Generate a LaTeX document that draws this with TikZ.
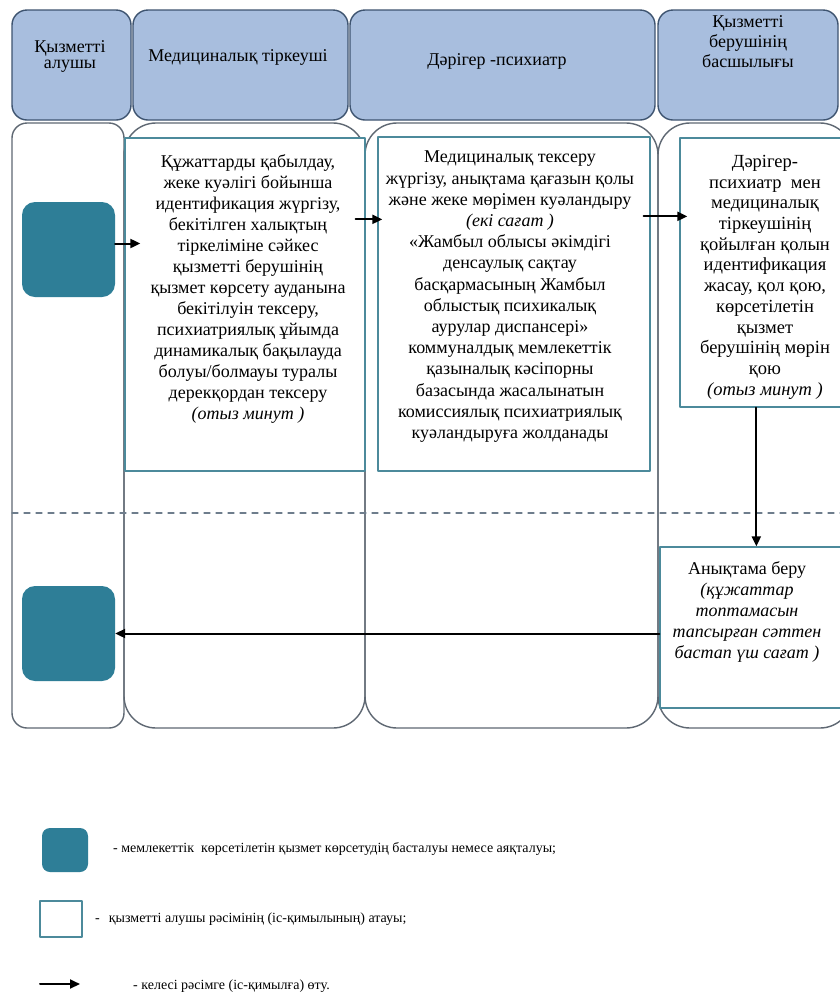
\documentclass[tikz,border=0pt]{standalone}
\usepackage{fontspec}
\setmainfont{Liberation Serif}
\usetikzlibrary{arrows.meta}
\definecolor{headfill}{RGB}{168,190,222}
\definecolor{headline}{RGB}{62,84,112}
\definecolor{laneline}{RGB}{95,104,115}
\definecolor{boxline}{RGB}{76,138,155}
\definecolor{termfill}{RGB}{46,126,151}
\definecolor{dashline}{RGB}{110,125,140}

\begin{document}
\begin{tikzpicture}[line cap=round, line join=round, x=1pt, y=-1pt,
    lane/.style={draw=laneline, line width=1.4pt},
    head/.style={draw=headline, fill=headfill, line width=1.4pt, rounded corners=15pt, minimum height=110pt, inner sep=0pt},
    proc/.style={draw=boxline, fill=white, line width=1.3pt, inner sep=0pt},
    term/.style={fill=termfill, rounded corners=13pt, minimum width=93pt, minimum height=95pt, inner sep=0pt},
    txt/.style={align=center, inner sep=0pt, anchor=north, font=\fontsize{18}{21}\selectfont},
    flow/.style={line width=2pt, -{Triangle[length=10pt,width=9pt]}},
    legend/.style={anchor=west, inner sep=0pt, font=\fontsize{14}{16}\selectfont}]

                \clip (0,0) rectangle (840,1005);
                \fill[white] (0,0) rectangle (840,1005);

                \draw[lane, rounded corners=15pt] (12,123) rectangle (124,728);
                \draw[lane, rounded corners=32pt] (124,123) rectangle (365,728);
                \draw[lane, rounded corners=32pt] (365,123) rectangle (658,728);
                \draw[lane, rounded corners=32pt] (658,123) rectangle (852,728);

                \draw[dashline, dash pattern=on 6pt off 6pt, line width=1.2pt] (12,513) -- (840,513);

                \node[head, minimum width=119pt] (h1) at (71.5,65) {};
                \node[head, minimum width=215pt] (h2) at (240.5,65) {};
                \node[head, minimum width=305pt] (h3) at (502.5,65) {};
                \node[head, minimum width=180pt] (h4) at (748,65) {};

                \node[txt, anchor=center, font=\fontsize{18}{16}\selectfont] (h1t) at (70,56) {Қызметті\\алушы};
                \node[txt, anchor=center] (h2t) at (238,57) {Медициналық тіркеуші};
                \node[txt, anchor=center] (h3t) at (497,61) {Дәрігер -психиатр};
                \node[txt, anchor=center, font=\fontsize{18}{20}\selectfont] (h4t) at (748,42) {Қызметті\\берушінің\\басшылығы};

                \node[proc, minimum width=240pt, minimum height=333pt] (b1) at (245,304.5) {};
                \node[proc, minimum width=272pt, minimum height=334pt] (b2) at (514,304) {};
                \node[proc, minimum width=190pt, minimum height=269pt] (b3) at (775,272.5) {};
                \node[proc, minimum width=210pt, minimum height=161pt] (b4) at (765,627.5) {};

                \node[txt] (b1t) at (248,154) {Құжаттарды қабылдау,\\жеке куәлігі бойынша\\идентификация жүргізу,\\бекітілген халықтың\\тіркеліміне сәйкес\\қызметті берушінің\\қызмет көрсету ауданына\\бекітілуін тексеру,\\психиатриялық ұйымда\\динамикалық бақылауда\\болуы/болмауы туралы\\дерекқордан тексеру\\\textit{(отыз минут )}};
                \node[txt, font=\fontsize{18}{21.2}\selectfont] (b2t) at (510,151) {Медициналық тексеру\\жүргізу,\ анықтама қағазын\ қолы\\және жеке мөрімен куәландыру\\\textit{(екі сағат )}\\«Жамбыл облысы әкімдігі\\денсаулық сақтау\\басқармасының Жамбыл\\облыстық психикалық\\аурулар диспансері»\\коммуналдық мемлекеттік\\қазыналық кәсіпорны\\базасында жасалынатын\\комиссиялық психиатриялық\\куәландыруға жолданады};
                \node[txt, font=\fontsize{18.5}{20.7}\selectfont] (b3t) at (765,155) {Дәрігер-\\психиатр\enspace мен\\медициналық\\тіркеушінің\\қойылған қолын\\идентификация\\жасау, қол қою,\\көрсетілетін\\қызмет\\берушінің мөрін\\қою\\\textit{(отыз минут )}};
                \node[txt] (b4t) at (747,561) {Анықтама беру\\\textit{(құжаттар}\\\textit{топтамасын}\\\textit{тапсырған сәттен}\\\textit{бастап үш сағат )}};

                \node[term] (start) at (68.5,249.5) {};
                \node[term] (finish) at (68.5,633.5) {};

                \coordinate (a12) at ([yshift=-82pt]b1.north east);
                \coordinate (a23) at ([yshift=-80pt]b2.north east);
                \coordinate (a34) at ([xshift=77pt]b3.south west);

                \draw[flow, shorten >=-16pt] ([yshift=6pt]start.east) -- ([yshift=6pt]start.east -| b1.west);
                \draw[flow, shorten <=-10pt, shorten >=-5pt] (a12) -- (a12 -| b2.west);
                \draw[flow, shorten <=-7pt, shorten >=-8pt] (a23) -- (a23 -| b3.west);
                \draw[flow] (a34) -- (a34 |- b4.north);
                \draw[flow] (finish.east -| b4.west) -- (finish.east);

                \node[term, minimum width=46pt, minimum height=44pt, rounded corners=8pt] (lg1) at (65,850) {};
                \node[proc, minimum width=42pt, minimum height=36pt] (lg2) at (61,919) {};
                \coordinate (lg3a) at (40,984);
                \coordinate (lg3b) at (80,984);
                \draw[flow] (lg3a) -- (lg3b);

                \node[legend] (lg1t) at (113,849) {- мемлекеттік\enspace көрсетілетін қызмет көрсетудің басталуы немесе аяқталуы;};
                \node[legend] (lg2t) at (95,919) {-\hspace{9pt}қызметті алушы рәсімінің (іс-қимылының) атауы;};
                \node[legend] (lg3t) at (133,986) {- келесі рәсімге (іс-қимылға) өту.};

            \end{tikzpicture}
\end{document}
